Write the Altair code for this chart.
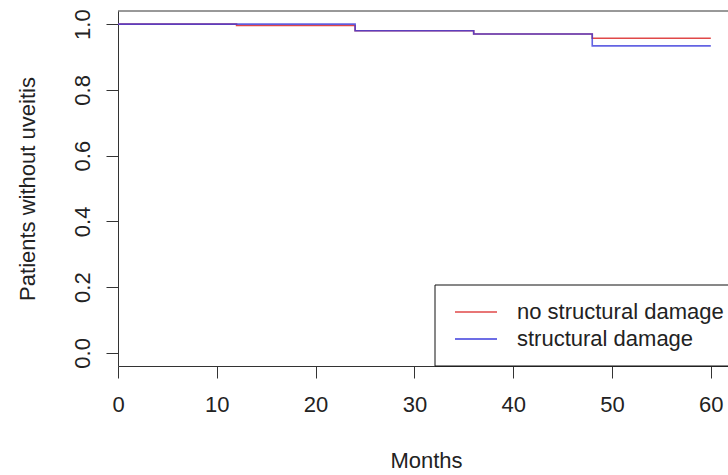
import altair as alt
import pandas as pd

# ---- data ----
months = [0, 12, 24, 36, 48, 60]
no_damage = [1.0, 0.996, 0.980, 0.970, 0.957, 0.957]
damage = [1.0, 1.0, 0.980, 0.970, 0.934, 0.934]
series_names = ["no structural damage", "structural damage"]
series_colors = ["#E04848", "#3C3CDC"]
series_opacity = [1.0, 0.8]
x_ticks = [0, 10, 20, 30, 40, 50, 60]
y_ticks = [0.0, 0.2, 0.4, 0.6, 0.8, 1.0]

rows = []
for name, vals in zip(series_names, [no_damage, damage]):
    for m, v in zip(months, vals):
        rows.append({"series": name, "month": m, "surv": v})
df = pd.DataFrame(rows)

W, H = 610, 355
FONT = "Liberation Sans"
FS = 22
AX = "#333333"
TX = "#222222"

x_enc = alt.X(
    "month:Q",
    scale=alt.Scale(domain=[0, 61.74], nice=False, zero=False),
    axis=alt.Axis(
        values=x_ticks, format="d", title="Months", grid=False,
        tickSize=12, labelPadding=16, labelBaseline="top",
        labelFont=FONT, labelFontSize=FS, labelColor=TX,
        labelOverlap=False, labelFlush=False,
        titleFont=FONT, titleFontSize=FS, titleFontWeight="normal", titleColor=TX,
        titleBaseline="alphabetic", titleAlign="center", titleX=308, titleY=101,
        domainColor=AX, tickColor=AX, domainWidth=1, tickWidth=1,
    ),
)
y_enc = alt.Y(
    "surv:Q",
    scale=alt.Scale(domain=[-0.04, 1.04], nice=False, zero=False),
    axis=alt.Axis(
        values=y_ticks, format=".1f", title="Patients without uveitis", grid=False,
        tickSize=12, labelPadding=17, labelAngle=270, labelAlign="center",
        labelBaseline="alphabetic",
        labelFont=FONT, labelFontSize=FS, labelColor=TX,
        labelOverlap=False, labelFlush=False,
        titleFont=FONT, titleFontSize=FS, titleFontWeight="normal", titleColor=TX,
        titleAngle=270, titleAlign="center", titleBaseline="alphabetic",
        titleX=-84, titleY=H / 2,
        domainColor=AX, tickColor=AX, domainWidth=1, tickWidth=1,
    ),
)

curves = alt.Chart(df).mark_line(interpolate="step-after", strokeWidth=1.6).encode(
    x=x_enc,
    y=y_enc,
    color=alt.Color("series:N", scale=alt.Scale(domain=series_names, range=series_colors), legend=None),
    opacity=alt.Opacity("series:N", scale=alt.Scale(domain=series_names, range=series_opacity), legend=None),
)

one = pd.DataFrame({"k": [0]})

top_frame = alt.Chart(one).mark_rule(color=AX, strokeWidth=1).encode(
    x=alt.value(0), x2=alt.value(W), y=alt.value(0)
)

legend_box = alt.Chart(one).mark_rect(fill="white", stroke="#111111", strokeWidth=1).encode(
    x=alt.value(317), x2=alt.value(W + 10), y=alt.value(274), y2=alt.value(H)
)

legend_layers = [legend_box]
for i, (name, col) in enumerate(zip(series_names, series_colors)):
    legend_layers.append(
        alt.Chart(one).mark_rule(color=col, strokeWidth=1.6).encode(
            x=alt.value(337), x2=alt.value(379), y=alt.value(301 + 27 * i)
        )
    )
    legend_layers.append(
        alt.Chart(one).mark_text(
            text=name, font=FONT, fontSize=FS, color=TX, align="left", baseline="alphabetic"
        ).encode(x=alt.value(399), y=alt.value(308 + 27 * i))
    )

chart = alt.layer(curves, top_frame, *legend_layers).properties(
    width=W,
    height=H,
    padding={"left": 118, "top": 11, "right": 0, "bottom": 109},
    autosize=alt.AutoSizeParams(type="none"),
    background="white",
).configure_view(stroke=None)

chart.save("out.html", embed_options={"renderer": "svg", "actions": False})
